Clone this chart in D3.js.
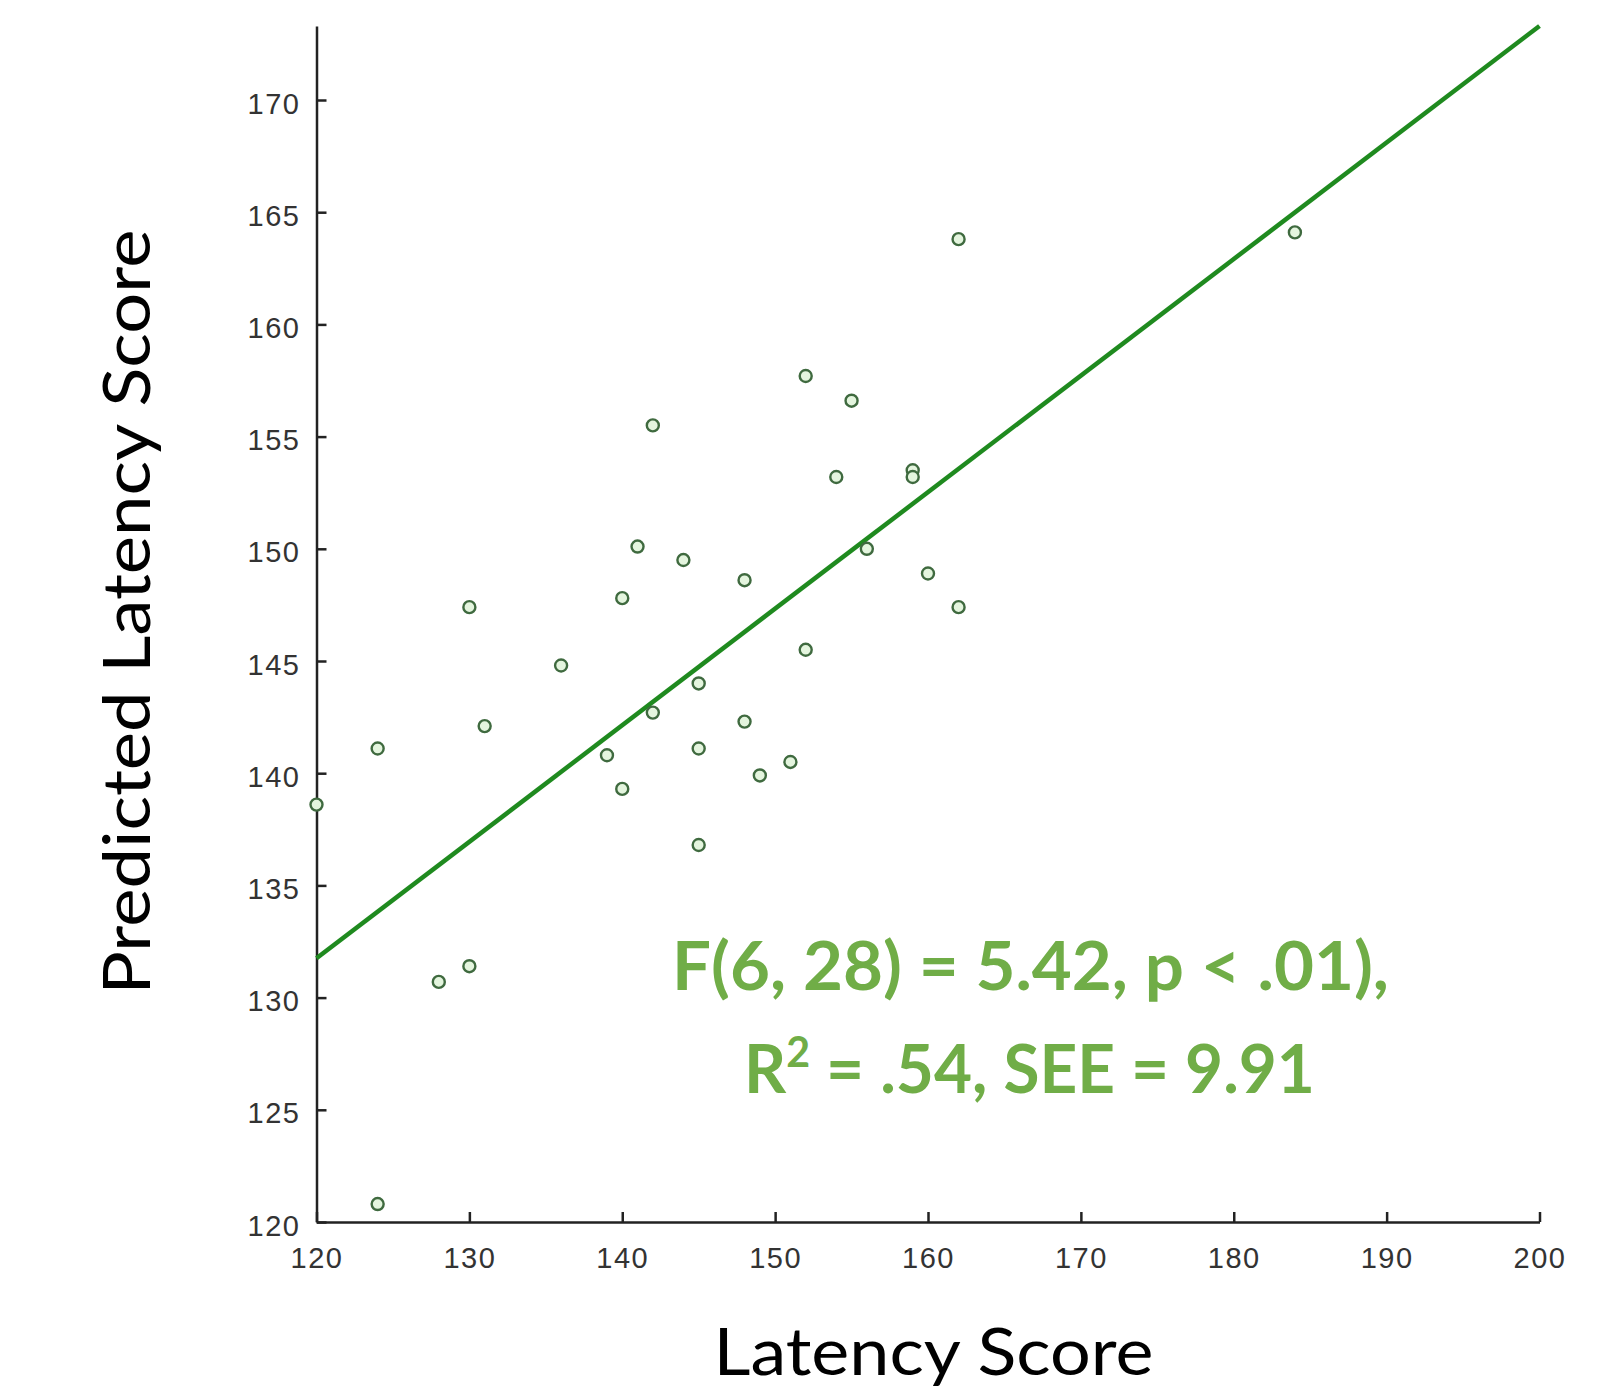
<!DOCTYPE html>
<html>
<head>
<meta charset="utf-8">
<script src="https://cdn.jsdelivr.net/npm/d3@7"></script>
<style>
  html, body { margin: 0; padding: 0; background: #ffffff; }
  svg { display: block; }
</style>
</head>
<body>
<svg id="chart" width="1605" height="1389"></svg>
<script>
// ---- data ----
const latencyScore = [120, 124, 124, 128, 130, 130, 131, 136, 139, 140, 140, 141, 142, 142, 144, 145, 145, 145, 148, 148, 149, 151, 152, 152, 154, 155, 156, 159, 159, 160, 162, 162, 184];
const predictedScore = [138.6, 141.1, 120.8, 130.7, 131.4, 147.4, 142.1, 144.8, 140.8, 139.3, 147.8, 150.1, 155.5, 142.7, 149.5, 144.0, 141.1, 136.8, 148.6, 142.3, 139.9, 140.5, 157.7, 145.5, 153.2, 156.6, 150.0, 153.5, 153.2, 148.9, 163.8, 147.4, 164.1];
const fitX = [120, 200];
const fitY = [131.75, 173.3];
const xTicks = [120, 130, 140, 150, 160, 170, 180, 190, 200];
const yTicks = [120, 125, 130, 135, 140, 145, 150, 155, 160, 165, 170];
const xDomain = [120, 200];
const yDomain = [120, 173.3];
const xTitle = "Latency Score";
const yTitle = "Predicted Latency Score";
const statLine1 = "F(6, 28) = 5.42, p < .01),";
const statLine2a = "R";
const statLine2sup = "2";
const statLine2b = " = .54, SEE = 9.91";

// ---- chart ----
const svg = d3.select("#chart");
const x = d3.scaleLinear().domain(xDomain).range([316.5, 1539.5]);
const y = d3.scaleLinear().domain([120, 170]).range([1222, 100]);
y.domain([120, y.invert(y(170) - (yDomain[1] - 170) * (1122 / 50))]);
y.range([1222, 100 - (yDomain[1] - 170) * (1122 / 50)]);
y.domain(yDomain);

const axisColor = "#222";
const tickFont = "'Liberation Sans', Arial, Helvetica, sans-serif";

const gx = svg.append("g")
  .attr("transform", `translate(0,${y(yDomain[0])})`)
  .call(d3.axisBottom(x).tickValues(xTicks).tickFormat(d3.format("d"))
    .tickSizeInner(-10).tickSizeOuter(0).tickPadding(25));
const gy = svg.append("g")
  .attr("transform", `translate(${x(xDomain[0])},0)`)
  .call(d3.axisLeft(y).tickValues(yTicks).tickFormat(d3.format("d"))
    .tickSizeInner(-10).tickSizeOuter(0).tickPadding(16));

[gx, gy].forEach(g => {
  g.select(".domain").attr("stroke", axisColor).attr("stroke-width", 2.5);
  g.selectAll(".tick line").attr("stroke", axisColor).attr("stroke-width", 2.5);
  g.selectAll(".tick text")
    .attr("fill", "#333")
    .style("font-family", tickFont)
    .style("font-size", "29px")
    .style("letter-spacing", "1.5px");
});
gy.selectAll(".tick text").attr("dy", "0.45em");

// regression line
const fitData = fitX.map((d, i) => [d, fitY[i]]);
svg.append("path")
  .datum(fitData)
  .attr("fill", "none")
  .attr("stroke", "#1f8a1f")
  .attr("stroke-width", 4.5)
  .attr("d", d3.line().x(d => x(d[0])).y(d => y(d[1])));

// points
const pts = latencyScore.map((d, i) => ({ x: d, y: predictedScore[i] }));
svg.append("g").selectAll("circle")
  .data(pts)
  .enter().append("circle")
  .attr("cx", d => x(d.x))
  .attr("cy", d => y(d.y))
  .attr("r", 6)
  .attr("fill", "#e4f5de")
  .attr("stroke", "#3f6a3f")
  .attr("stroke-width", 2.4);

// axis titles
const titleFont = "Lato, 'Open Sans', sans-serif";
svg.append("text")
  .attr("x", 933.5).attr("y", 1375)
  .attr("text-anchor", "middle")
  .attr("textLength", 440).attr("lengthAdjust", "spacingAndGlyphs")
  .style("font-family", titleFont).style("font-size", "66px")
  .attr("fill", "#000")
  .text(xTitle);

svg.append("text")
  .attr("transform", "translate(150,612) rotate(-90)")
  .attr("text-anchor", "middle")
  .attr("textLength", 765).attr("lengthAdjust", "spacingAndGlyphs")
  .style("font-family", titleFont).style("font-size", "66px")
  .attr("fill", "#000")
  .text(yTitle);

// stats annotation
const statColor = "#70ad47";
svg.append("text")
  .attr("x", 1030.5).attr("y", 990)
  .attr("text-anchor", "middle")
  .attr("textLength", 717).attr("lengthAdjust", "spacingAndGlyphs")
  .style("font-family", titleFont).style("font-weight", 700).style("font-size", "67px")
  .attr("fill", statColor)
  .text(statLine1);

const t2 = svg.append("text")
  .attr("x", 1029.5).attr("y", 1093)
  .attr("text-anchor", "middle")
  .attr("textLength", 571).attr("lengthAdjust", "spacingAndGlyphs")
  .style("font-family", titleFont).style("font-weight", 700).style("font-size", "67px")
  .attr("fill", statColor);
t2.append("tspan").text(statLine2a);
t2.append("tspan").attr("dy", -26).style("font-size", "42px").text(statLine2sup);
t2.append("tspan").attr("dy", 26).text(statLine2b);
</script>
</body>
</html>
